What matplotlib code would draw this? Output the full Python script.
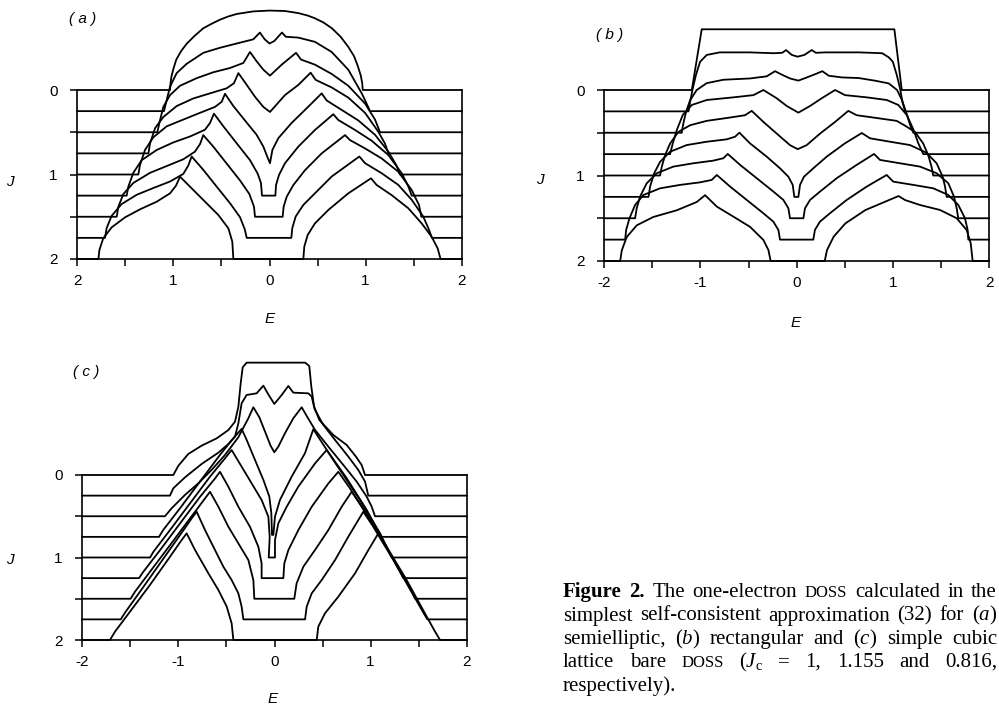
import matplotlib
matplotlib.use('Agg')
import matplotlib.pyplot as plt
import numpy as np

plt.rcParams['font.family'] = ['Liberation Sans', 'DejaVu Sans']
plt.rcParams['mathtext.fontset'] = 'custom'
plt.rcParams['mathtext.rm'] = 'Liberation Serif'
plt.rcParams['mathtext.it'] = 'Liberation Serif:italic'

W, H = 999, 712

# offsets of the curves (one curve per J value)
J_levels = [0.0, 0.25, 0.5, 0.75, 1.0, 1.25, 1.5, 1.75, 2.0]
E_ticks = [-2, -1, 0, 1, 2]
E_minor = [-1.5, -0.5, 0.5, 1.5]
J_ticks = [0, 1, 2]
J_minor = [0.5, 1.5]

# ---- (a) semielliptic: energies and DOS heights (in J units)
a_E = [
    [-1.035, -1.03, -1.02, -1.0, -0.97, -0.92, -0.86, -0.78, -0.69, -0.60, -0.52, -0.43, -0.34, -0.17, 0.0, 0.16, 0.30, 0.40, 0.47, 0.56, 0.65, 0.74, 0.82, 0.88, 0.92, 0.95, 0.965, 0.97],
    [-1.098, -1.07, -1.035, -0.966, -0.862, -0.689, -0.515, -0.342, -0.168, -0.10, -0.05, 0.0, 0.05, 0.13, 0.17, 0.30, 0.473, 0.647, 0.82, 0.96, 1.01, 1.046],
    [-1.167, -1.146, -1.105, -1.035, -0.931, -0.758, -0.585, -0.412, -0.272, -0.203, -0.134, -0.064, 0.005, 0.127, 0.276, 0.328, 0.473, 0.647, 0.82, 0.994, 1.098, 1.15],
    [-1.26, -1.243, -1.19, -1.105, -0.966, -0.793, -0.62, -0.446, -0.37, -0.324, -0.255, -0.151, -0.064, 0.005, 0.161, 0.30, 0.428, 0.48, 0.647, 0.82, 0.994, 1.13, 1.20, 1.237],
    [-1.365, -1.348, -1.296, -1.209, -1.07, -0.897, -0.723, -0.567, -0.498, -0.463, -0.376, -0.238, -0.134, -0.064, -0.023, 0.005, 0.03, 0.092, 0.23, 0.37, 0.543, 0.595, 0.75, 0.924, 1.098, 1.237, 1.32, 1.358],
    [-1.486, -1.469, -1.417, -1.33, -1.174, -1.0, -0.827, -0.671, -0.619, -0.578, -0.48, -0.342, -0.203, -0.123, -0.089, -0.078, 0.061, 0.068, 0.099, 0.161, 0.30, 0.473, 0.664, 0.716, 0.89, 1.063, 1.237, 1.376, 1.445, 1.48],
    [-1.59, -1.573, -1.521, -1.417, -1.243, -1.07, -0.897, -0.776, -0.723, -0.689, -0.585, -0.446, -0.307, -0.21, -0.161, -0.151, 0.137, 0.147, 0.179, 0.248, 0.37, 0.543, 0.786, 0.838, 0.994, 1.167, 1.34, 1.48, 1.556, 1.58],
    [-1.712, -1.695, -1.643, -1.539, -1.382, -1.209, -1.035, -0.897, -0.845, -0.81, -0.689, -0.55, -0.411, -0.307, -0.258, -0.237, 0.227, 0.237, 0.272, 0.352, 0.473, 0.647, 0.935, 0.994, 1.167, 1.34, 1.48, 1.60, 1.66, 1.69],
    [-1.78, -1.77, -1.73, -1.642, -1.503, -1.347, -1.174, -1.035, -0.973, -0.931, -0.81, -0.671, -0.532, -0.428, -0.387, -0.376, 0.352, 0.362, 0.397, 0.473, 0.612, 0.82, 1.056, 1.115, 1.27, 1.445, 1.583, 1.687, 1.75, 1.78],
]
a_h = [
    [0, 0.08, 0.16, 0.25, 0.36, 0.46, 0.55, 0.64, 0.73, 0.785, 0.83, 0.87, 0.90, 0.93, 0.94, 0.935, 0.91, 0.88, 0.85, 0.80, 0.73, 0.63, 0.51, 0.40, 0.28, 0.17, 0.08, 0],
    [0, 0.13, 0.29, 0.45, 0.56, 0.69, 0.75, 0.80, 0.85, 0.93, 0.85, 0.80, 0.83, 0.93, 0.88, 0.87, 0.82, 0.70, 0.49, 0.21, 0.09, 0],
    [0, 0.11, 0.30, 0.44, 0.55, 0.64, 0.71, 0.76, 0.82, 0.95, 0.84, 0.74, 0.67, 0.80, 0.94, 0.86, 0.80, 0.69, 0.55, 0.34, 0.15, 0],
    [0, 0.12, 0.30, 0.43, 0.56, 0.65, 0.71, 0.77, 0.83, 0.95, 0.84, 0.67, 0.55, 0.49, 0.69, 0.81, 0.955, 0.87, 0.78, 0.66, 0.48, 0.26, 0.12, 0],
    [0, 0.11, 0.29, 0.44, 0.57, 0.65, 0.73, 0.80, 0.86, 0.955, 0.81, 0.615, 0.47, 0.33, 0.21, 0.134, 0.29, 0.43, 0.61, 0.765, 0.96, 0.876, 0.765, 0.64, 0.47, 0.27, 0.11, 0],
    [0, 0.107, 0.27, 0.42, 0.54, 0.63, 0.70, 0.78, 0.86, 0.97, 0.82, 0.62, 0.42, 0.26, 0.15, 0, 0, 0.126, 0.245, 0.383, 0.58, 0.777, 0.963, 0.895, 0.777, 0.65, 0.48, 0.264, 0.107, 0],
    [0, 0.118, 0.268, 0.40, 0.52, 0.60, 0.68, 0.77, 0.86, 0.966, 0.83, 0.63, 0.43, 0.27, 0.118, 0, 0, 0.118, 0.237, 0.375, 0.552, 0.75, 0.966, 0.907, 0.809, 0.69, 0.533, 0.316, 0.138, 0],
    [0, 0.114, 0.26, 0.40, 0.51, 0.59, 0.667, 0.757, 0.856, 0.963, 0.805, 0.607, 0.41, 0.245, 0.103, 0, 0, 0.114, 0.252, 0.39, 0.528, 0.726, 0.963, 0.884, 0.765, 0.627, 0.45, 0.252, 0.095, 0],
    [0, 0.107, 0.245, 0.375, 0.493, 0.588, 0.678, 0.777, 0.868, 0.974, 0.836, 0.678, 0.52, 0.363, 0.205, 0, 0, 0.146, 0.284, 0.422, 0.58, 0.777, 0.955, 0.876, 0.757, 0.60, 0.422, 0.264, 0.126, 0],
]

# ---- (b) rectangular
b_E = [
    [-1.09, -0.987, 1.016, 1.093],
    [-1.125, -1.108, -1.08, -1.046, -1.004, -0.935, -0.80, -0.49, -0.24, -0.15, -0.11, -0.05, 0.01, 0.08, 0.157, 0.20, 0.30, 0.65, 0.89, 0.96, 1.0, 1.04, 1.075, 1.10, 1.127],
    [-1.195, -1.178, -1.15, -1.108, -1.039, -0.935, -0.762, -0.485, -0.311, -0.225, -0.155, -0.069, 0.018, 0.09, 0.195, 0.267, 0.334, 0.472, 0.645, 0.82, 0.958, 1.044, 1.096, 1.147, 1.18, 1.213],
    [-1.316, -1.288, -1.246, -1.184, -1.09, -0.935, -0.658, -0.45, -0.346, -0.207, -0.103, 0.018, 0.139, 0.26, 0.40, 0.503, 0.729, 0.937, 1.057, 1.145, 1.213, 1.265, 1.317],
    [-1.42, -1.403, -1.368, -1.316, -1.23, -1.108, -0.935, -0.693, -0.537, -0.467, -0.346, -0.207, -0.069, 0.011, 0.104, 0.243, 0.40, 0.537, 0.624, 0.797, 1.04, 1.12, 1.23, 1.316, 1.368, 1.403, 1.42],
    [-1.54, -1.524, -1.482, -1.42, -1.316, -1.143, -0.935, -0.727, -0.64, -0.595, -0.485, -0.311, -0.173, -0.086, -0.041, -0.024, 0.018, 0.035, 0.076, 0.173, 0.312, 0.502, 0.677, 0.763, 0.971, 1.179, 1.35, 1.456, 1.518, 1.543, 1.56],
    [-1.68, -1.663, -1.628, -1.559, -1.455, -1.282, -1.074, -0.866, -0.762, -0.716, -0.588, -0.415, -0.242, -0.138, -0.086, -0.069, 0.07, 0.087, 0.139, 0.243, 0.416, 0.624, 0.805, 0.867, 1.075, 1.283, 1.456, 1.577, 1.636, 1.664, 1.68],
    [-1.783, -1.773, -1.738, -1.68, -1.593, -1.42, -1.212, -1.004, -0.883, -0.83, -0.692, -0.519, -0.346, -0.242, -0.19, -0.173, 0.173, 0.19, 0.242, 0.346, 0.52, 0.728, 0.936, 1.005, 1.213, 1.421, 1.577, 1.681, 1.75, 1.778, 1.785],
    [-1.835, -1.818, -1.767, -1.663, -1.49, -1.247, -1.039, -0.952, -0.83, -0.658, -0.485, -0.346, -0.294, -0.27, 0.292, 0.316, 0.385, 0.507, 0.715, 1.06, 1.127, 1.283, 1.49, 1.664, 1.768, 1.81, 1.83],
]
b_h = [
    [0, 0.71, 0.71, 0],
    [0, 0.11, 0.27, 0.43, 0.58, 0.66, 0.69, 0.69, 0.68, 0.685, 0.717, 0.66, 0.64, 0.66, 0.717, 0.685, 0.69, 0.69, 0.68, 0.63, 0.58, 0.43, 0.27, 0.11, 0],
    [0, 0.11, 0.245, 0.38, 0.50, 0.58, 0.62, 0.635, 0.66, 0.72, 0.68, 0.635, 0.61, 0.64, 0.686, 0.72, 0.667, 0.647, 0.64, 0.608, 0.577, 0.50, 0.38, 0.21, 0.09, 0],
    [0, 0.126, 0.282, 0.458, 0.575, 0.633, 0.664, 0.69, 0.75, 0.653, 0.563, 0.485, 0.563, 0.653, 0.75, 0.69, 0.664, 0.633, 0.575, 0.458, 0.29, 0.126, 0],
    [0, 0.10, 0.238, 0.374, 0.51, 0.588, 0.639, 0.678, 0.705, 0.756, 0.627, 0.49, 0.355, 0.308, 0.355, 0.49, 0.627, 0.756, 0.705, 0.678, 0.639, 0.588, 0.51, 0.374, 0.238, 0.10, 0],
    [0, 0.12, 0.275, 0.41, 0.528, 0.606, 0.645, 0.673, 0.704, 0.751, 0.626, 0.47, 0.334, 0.236, 0.14, 0, 0, 0.14, 0.236, 0.334, 0.47, 0.626, 0.747, 0.685, 0.645, 0.606, 0.516, 0.392, 0.236, 0.12, 0],
    [0, 0.117, 0.253, 0.409, 0.526, 0.604, 0.643, 0.674, 0.702, 0.752, 0.624, 0.468, 0.312, 0.214, 0.117, 0, 0, 0.117, 0.214, 0.312, 0.468, 0.624, 0.752, 0.682, 0.643, 0.604, 0.526, 0.409, 0.253, 0.117, 0],
    [0, 0.113, 0.25, 0.405, 0.522, 0.60, 0.64, 0.67, 0.698, 0.756, 0.62, 0.464, 0.308, 0.21, 0.113, 0, 0, 0.113, 0.21, 0.308, 0.464, 0.62, 0.756, 0.678, 0.64, 0.60, 0.522, 0.405, 0.25, 0.113, 0],
    [0, 0.125, 0.28, 0.417, 0.515, 0.593, 0.69, 0.77, 0.636, 0.519, 0.40, 0.246, 0.129, 0, 0, 0.129, 0.285, 0.44, 0.596, 0.76, 0.713, 0.655, 0.597, 0.50, 0.362, 0.207, 0],
]

# ---- (c) simple cubic
c_E = [
    [-1.053, -1.0, -0.897, -0.758, -0.602, -0.48, -0.411, -0.376, -0.352, -0.331, -0.29, 0.318, 0.362, 0.383, 0.411, 0.466, 0.612, 0.751, 0.848, 0.907, 0.942],
    [-1.088, -1.053, -0.931, -0.758, -0.584, -0.48, -0.411, -0.376, -0.342, -0.29, -0.186, -0.116, -0.071, -0.002, 0.075, 0.144, 0.196, 0.352, 0.387, 0.418, 0.508, 0.63, 0.768, 0.872, 0.942, 0.976],
    [-1.14, -1.07, -0.931, -0.792, -0.654, -0.515, -0.376, -0.272, -0.22, -0.158, -0.089, -0.04, -0.002, 0.04, 0.109, 0.196, 0.283, 0.335, 0.422, 0.56, 0.716, 0.855, 0.959, 1.011, 1.046],
    [-1.202, -1.157, -0.983, -0.775, -0.567, -0.428, -0.342, -0.29, -0.203, -0.116, -0.054, -0.033, -0.026, -0.012, 0.005, 0.057, 0.179, 0.317, 0.404, 0.543, 0.751, 0.959, 1.063, 1.115],
    [-1.295, -1.26, -1.087, -0.879, -0.671, -0.515, -0.446, -0.342, -0.238, -0.134, -0.064, -0.05, -0.06, 0.005, 0.005, 0.04, 0.127, 0.248, 0.422, 0.543, 0.682, 0.89, 1.098, 1.184, 1.219],
    [-1.41, -1.365, -1.191, -0.983, -0.775, -0.619, -0.567, -0.48, -0.376, -0.255, -0.168, -0.134, -0.134, 0.092, 0.102, 0.144, 0.248, 0.387, 0.56, 0.664, 0.786, 0.994, 1.202, 1.306, 1.34],
    [-1.497, -1.452, -1.296, -1.087, -0.879, -0.723, -0.671, -0.584, -0.48, -0.376, -0.272, -0.22, -0.21, 0.206, 0.23, 0.3, 0.421, 0.56, 0.699, 0.803, 0.924, 1.133, 1.341, 1.428, 1.463],
    [-1.6, -1.556, -1.4, -1.191, -0.983, -0.862, -0.81, -0.723, -0.619, -0.532, -0.446, -0.376, -0.342, -0.324, 0.318, 0.335, 0.387, 0.491, 0.63, 0.768, 0.924, 1.028, 1.237, 1.445, 1.549, 1.591],
    [-1.712, -1.66, -1.504, -1.296, -1.087, -0.966, -0.914, -0.827, -0.688, -0.584, -0.497, -0.446, -0.428, 0.439, 0.456, 0.525, 0.664, 0.838, 0.977, 1.081, 1.167, 1.375, 1.584, 1.671, 1.723],
]
c_h = [
    [0, 0.113, 0.255, 0.356, 0.444, 0.545, 0.646, 0.828, 1.111, 1.305, 1.362, 1.362, 1.321, 1.071, 0.836, 0.667, 0.485, 0.364, 0.222, 0.121, 0],
    [0, 0.089, 0.222, 0.384, 0.521, 0.626, 0.715, 0.877, 1.119, 1.22, 1.24, 1.333, 1.24, 1.111, 1.22, 1.329, 1.248, 1.24, 1.2, 1.046, 0.857, 0.675, 0.473, 0.311, 0.17, 0],
    [0, 0.097, 0.259, 0.40, 0.562, 0.743, 0.958, 1.188, 1.321, 1.2, 0.998, 0.853, 0.776, 0.844, 1.006, 1.188, 1.321, 1.216, 1.046, 0.844, 0.622, 0.42, 0.238, 0.117, 0],
    [0, 0.085, 0.347, 0.671, 0.994, 1.196, 1.309, 1.176, 0.933, 0.691, 0.489, 0.287, 0.024, 0.024, 0.246, 0.448, 0.731, 1.014, 1.305, 1.055, 0.711, 0.327, 0.105, 0],
    [0, 0.07, 0.333, 0.657, 0.98, 1.202, 1.303, 1.101, 0.899, 0.697, 0.495, 0.25, 0, 0, 0.212, 0.414, 0.616, 0.859, 1.141, 1.303, 1.06, 0.697, 0.293, 0.091, 0],
    [0, 0.077, 0.339, 0.663, 0.986, 1.208, 1.289, 1.107, 0.865, 0.622, 0.38, 0.178, 0, 0, 0.178, 0.339, 0.582, 0.865, 1.147, 1.289, 1.087, 0.703, 0.299, 0.077, 0],
    [0, 0.085, 0.327, 0.65, 0.974, 1.216, 1.297, 1.115, 0.873, 0.671, 0.469, 0.226, 0, 0, 0.186, 0.388, 0.59, 0.832, 1.115, 1.297, 1.095, 0.691, 0.267, 0.085, 0],
    [0, 0.081, 0.335, 0.679, 1.022, 1.224, 1.305, 1.083, 0.84, 0.638, 0.477, 0.315, 0.154, 0, 0, 0.154, 0.315, 0.477, 0.719, 1.002, 1.305, 1.123, 0.719, 0.295, 0.081, 0],
    [0, 0.101, 0.343, 0.667, 1.01, 1.212, 1.293, 1.091, 0.808, 0.606, 0.404, 0.202, 0, 0, 0.162, 0.323, 0.525, 0.808, 1.091, 1.293, 1.131, 0.727, 0.283, 0.101, 0],
]

fig = plt.figure(figsize=(W / 100, H / 100), dpi=100)


def px_rect(x0, x1, ytop, ybot):
    return [x0 / W, 1 - ybot / H, (x1 - x0) / W, (ybot - ytop) / H]


def ftext(x, y, s, **kw):
    return fig.text(x / W, 1 - y / H, s, **kw)


def panel(rect, E_all, h_all, ytop, xlabels):
    ax = fig.add_axes(rect)
    ax.patch.set_alpha(0)
    for J, E, h in zip(J_levels, E_all, h_all):
        x = np.r_[-2.0, E, 2.0]
        y = J - np.r_[0.0, h, 0.0]
        ax.plot(x, y, color='black', lw=1.3, clip_on=False)
    ax.set_xlim(-2, 2)
    ax.set_ylim(2, ytop)
    ax.spines['top'].set_visible(False)
    ax.spines['left'].set_bounds(0, 2)
    ax.spines['right'].set_bounds(0, 2)
    for s in ax.spines.values():
        s.set_linewidth(1.2)
    ax.set_xticks(E_ticks)
    ax.set_xticklabels(xlabels)
    ax.set_xticks(E_minor, minor=True)
    ax.set_yticks(J_ticks)
    ax.set_yticklabels([str(t) for t in J_ticks])
    ax.set_yticks(J_minor, minor=True)
    ax.tick_params(which='both', direction='out', length=5, width=1.1, labelsize=11)
    ax.tick_params(axis='x', which='both', pad=6)
    ax.tick_params(axis='y', which='both', pad=9)
    return ax


panel(px_rect(77.3, 461.7, 5.5, 259), a_E, a_h, -1.0, ['2', '1', '0', '1', '2'])
panel(px_rect(604.3, 989, 4.5, 261), b_E, b_h, -1.0, ['-2', '-1', '0', '1', '2'])
panel(px_rect(82.3, 466.7, 351.25, 640), c_E, c_h, -1.5, ['-2', '-1', '0', '1', '2'])

# panel tags and axis names
for x, y, s in [(83, 19, '( a )'), (610, 35, '( b )'), (86, 372, '( c )')]:
    ftext(x, y, s, ha='center', va='center', fontsize=11, style='italic')
for x, y in [(10, 182), (540, 180), (10, 560)]:
    ftext(x, y, 'J', ha='center', va='center', fontsize=11, style='italic')
for x, y in [(270, 319), (796, 323), (273, 699)]:
    ftext(x, y, 'E', ha='center', va='center', fontsize=11, style='italic')

# caption, justified
cap_lines = [
    [('Figure', 'b'), ('2.', 'b'), ('The', 'n'), ('one-electron', 'n'), ('DOSS', 'sc'),
     ('calculated', 'n'), ('in', 'n'), ('the', 'n')],
    [('simplest', 'n'), ('self-consistent', 'n'), ('approximation', 'n'), ('(32)', 'n'),
     ('for', 'n'), (r'($a$)', 'n')],
    [('semielliptic,', 'n'), (r'($b$)', 'n'), ('rectangular', 'n'), ('and', 'n'),
     (r'($c$)', 'n'), ('simple', 'n'), ('cubic', 'n')],
    [('lattice', 'n'), ('bare', 'n'), ('DOSS', 'sc'), (r'($J_{\rm c}$', 'n'), ('=', 'n'),
     ('1,', 'n'), ('1.155', 'n'), ('and', 'n'), ('0.816,', 'n')],
    [('respectively).', 'n')],
]
cap_base = [597, 620.5, 644, 667, 690.5]
cap_x0, cap_x1 = 563, 997
cap_size = 15

renderer = fig.canvas.get_renderer()
for i, words in enumerate(cap_lines):
    arts = []
    for w, kind in words:
        t = ftext(0, cap_base[i], w, family='Liberation Serif',
                  size=cap_size * (0.8 if kind == 'sc' else 1.0),
                  weight='bold' if kind == 'b' else 'normal',
                  ha='left', va='baseline')
        arts.append(t)
    widths = [t.get_window_extent(renderer).width for t in arts]
    if i < len(cap_lines) - 1:
        gap = (cap_x1 - cap_x0 - sum(widths)) / (len(arts) - 1)
    else:
        gap = 5
    x = cap_x0
    for t, w in zip(arts, widths):
        t.set_x(x / W)
        x += w + gap

fig.savefig('out.png', dpi=100)
